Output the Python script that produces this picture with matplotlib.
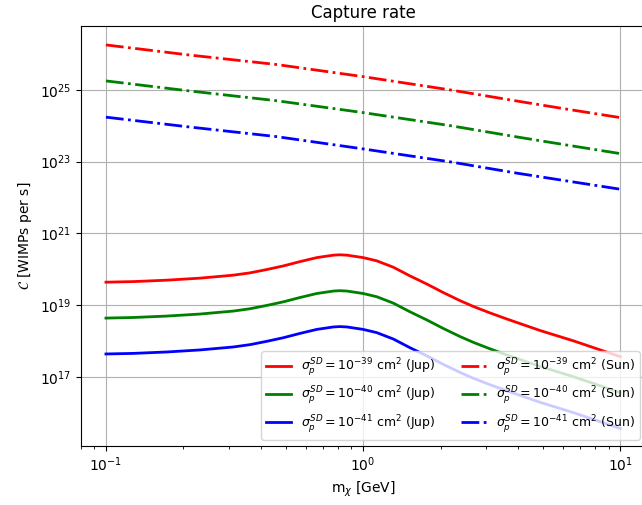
import matplotlib
matplotlib.use('Agg')
import matplotlib.pyplot as plt
from matplotlib.ticker import NullLocator

# masses [GeV] for the Jupiter curves
m_jup = [0.10, 0.128, 0.172, 0.232, 0.313, 0.363, 0.422, 0.490, 0.569, 0.661, 0.766, 0.81,
         0.865, 1.0, 1.13, 1.31, 1.52, 1.77, 2.05, 2.38, 2.69, 3.12, 3.62, 4.89, 6.58, 10.0]
jup_39 = [4.4e19, 4.57e19, 5.0e19, 5.7e19, 6.9e19, 8.0e19, 9.9e19, 1.25e20, 1.65e20, 2.13e20, 2.49e20, 2.55e20,
          2.49e20, 2.13e20, 1.73e20, 1.15e20, 6.6e19, 3.9e19, 2.26e19, 1.35e19, 9.2e18, 6.1e18, 4.15e18, 1.97e18, 1.02e18, 3.7e17]
jup_40 = [4.4e18, 4.57e18, 5.0e18, 5.7e18, 6.9e18, 8.0e18, 9.9e18, 1.25e19, 1.65e19, 2.13e19, 2.49e19, 2.55e19,
          2.49e19, 2.13e19, 1.73e19, 1.15e19, 6.6e18, 3.9e18, 2.26e18, 1.35e18, 9.2e17, 6.1e17, 4.15e17, 1.97e17, 1.02e17, 3.7e16]
jup_41 = [4.4e17, 4.57e17, 5.0e17, 5.7e17, 6.9e17, 8.0e17, 9.9e17, 1.25e18, 1.65e18, 2.13e18, 2.49e18, 2.55e18,
          2.49e18, 2.13e18, 1.73e18, 1.15e18, 6.6e17, 3.9e17, 2.26e17, 1.35e17, 9.2e16, 6.1e16, 4.15e16, 1.97e16, 1.02e16, 3.7e15]

# masses [GeV] for the Sun curves
m_sun = [0.10, 0.21, 0.46, 1.0, 2.18, 3.96, 6.21, 10.0]
sun_39 = [1.79e26, 9.4e25, 5.1e25, 2.34e25, 1.0e25, 4.9e24, 2.9e24, 1.69e24]
sun_40 = [1.78e25, 9.4e24, 5.0e24, 2.33e24, 1.01e24, 4.9e23, 2.9e23, 1.68e23]
sun_41 = [1.74e24, 9.3e23, 5.0e23, 2.27e23, 9.9e22, 4.8e22, 2.9e22, 1.71e22]

exps = ['-39', '-40', '-41']
colors = ['red', 'green', 'blue']

fig = plt.figure(figsize=(6.42, 5.05), dpi=100)
ax = fig.add_axes([81 / 642, 59 / 505, 565 / 642, 420 / 505])

for e, c, y in zip(exps, colors, [jup_39, jup_40, jup_41]):
    ax.plot(m_jup, y, color=c, lw=2,
            label=r'$\sigma_p^{SD} = 10^{%s}$ cm$^2$ (Jup)' % e)
for e, c, y in zip(exps, colors, [sun_39, sun_40, sun_41]):
    ax.plot(m_sun, y, color=c, lw=2, ls='-.',
            label=r'$\sigma_p^{SD} = 10^{%s}$ cm$^2$ (Sun)' % e)

ax.set_xscale('log')
ax.set_yscale('log')
ax.set_xlim(10 ** -1.097, 10 ** 1.1)
ax.set_ylim(10 ** 15.08, 10 ** 26.78)
ax.set_yticks([1e17, 1e19, 1e21, 1e23, 1e25])
ax.yaxis.set_minor_locator(NullLocator())
ax.grid(True, which='major')

ax.set_title('Capture rate')
ax.set_xlabel(r'm$_\chi$ [GeV]')
ax.set_ylabel(r'$\mathcal{C}$ [WIMPs per s]')
ax.legend(ncol=2, loc='lower right', fontsize=9)

fig.savefig('out.png', dpi=100)
